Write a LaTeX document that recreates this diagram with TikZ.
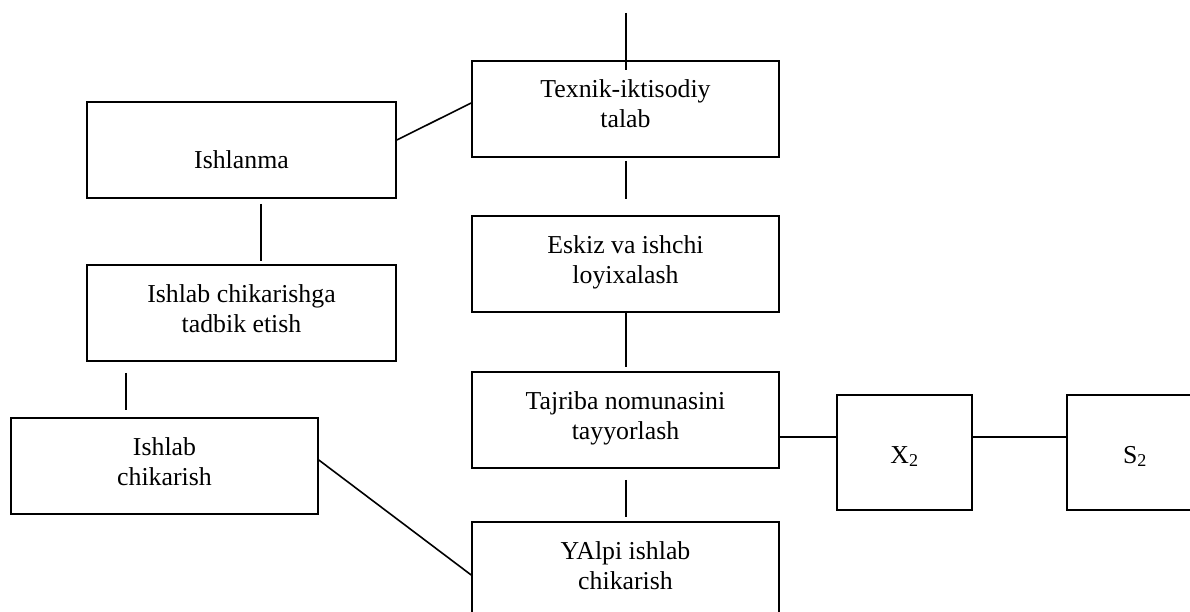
\documentclass[tikz,border=0pt]{standalone}
\usepackage{fontspec}
\setmainfont{Liberation Serif}
\begin{document}
\begin{tikzpicture}[x=1pt,y=-1pt, line width=1.6pt,
  box/.style={draw, inner sep=0pt, minimum width=307pt, minimum height=96pt, align=center,
    font=\fontsize{25.8pt}{30pt}\selectfont, text height=38pt, text depth=0pt},
  sqbox/.style={box, minimum width=135pt, minimum height=115pt, text height=21pt}]
\useasboundingbox (0,0) rectangle (1190,612);
\clip (0,0) rectangle (1190,612);
% boxes
\node[box] (tex) at (625.5,109) {Texnik-iktisodiy\\talab};
\node[box] (esk) at (625.5,264) {Eskiz va ishchi\\loyixalash};
\node[box] (taj) at (625.5,420) {Tajriba nomunasini\\tayyorlash};
\node[box] (yal) at (625.5,570) {YAlpi ishlab\\chikarish};
\node[box, minimum width=309pt] (ish) at (241.5,150) {Ishlanma};
\node[box, minimum width=309pt] (tad) at (241.5,313) {Ishlab chikarishga\\tadbik etish};
\node[box] (ich) at (164.5,466) {Ishlab\\chikarish};
\node[sqbox] (x2) at (904.5,452.5) {X\textsubscript{2}};
\node[sqbox, minimum width=136pt] (s2) at (1135,452.5) {S\textsubscript{2}};
\coordinate (topend) at (626,13);
% connectors
\draw (topend) -- ([xshift=0.5pt,yshift=-10pt]tex.north);
\draw[shorten <=3pt, shorten >=16pt] ([xshift=0.5pt]tex.south) -- ([xshift=0.5pt]esk.north);
\draw[shorten <=-2pt, shorten >=4pt] ([xshift=0.5pt]esk.south) -- ([xshift=0.5pt]taj.north);
\draw[shorten <=11pt, shorten >=4pt] ([xshift=0.5pt]taj.south) -- ([xshift=0.5pt]yal.north);
\draw[shorten <=5pt, shorten >=3pt] ([xshift=19.5pt]ish.south) -- ([xshift=19.5pt]tad.north);
\draw[shorten <=11pt, shorten >=7pt] ([xshift=-115.5pt]tad.south) -- ([xshift=-38.5pt]ich.north);
\draw ([yshift=10pt]ish.east) -- ([yshift=6pt]tex.west);
\draw ([yshift=6pt]ich.east) -- ([yshift=-5pt]yal.west);
\draw ([yshift=-17pt]taj.east) -- ([yshift=15.5pt]x2.west);
\draw ([yshift=15.5pt]x2.east) -- ([yshift=15.5pt]s2.west);
\end{tikzpicture}
\end{document}
